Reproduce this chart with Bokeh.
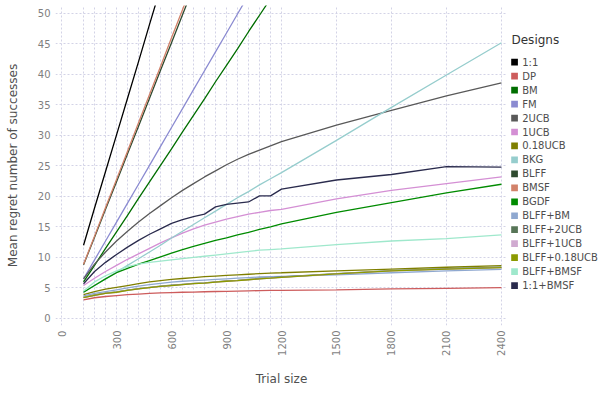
import math
from bokeh.plotting import figure
from bokeh.layouts import row
from bokeh.models import Range1d, FixedTicker, ColumnDataSource
from bokeh.core.properties import value
from bokeh.embed import file_html
from bokeh.resources import INLINE

# ---------------- data ----------------
trial_sizes = [120, 180, 240, 300, 360, 420, 480, 540, 600, 660, 720, 780, 840, 900,
               960, 1020, 1080, 1140, 1200, 1500, 1800, 2100, 2400]
x_tick_values = [0, 300, 600, 900, 1200, 1500, 1800, 2100, 2400]
y_tick_values = [0, 5, 10, 15, 20, 25, 30, 35, 40, 45, 50]

designs = ["1:1", "DP", "BM", "FM", "2UCB", "1UCB", "0.18UCB", "BKG", "BLFF", "BMSF",
           "BGDF", "BLFF+BM", "BLFF+2UCB", "BLFF+1UCB", "BLFF+0.18UCB", "BLFF+BMSF",
           "1:1+BMSF"]

colors = ["#000000", "#cd5c5c", "#006e00", "#8b8bd1", "#595959", "#d48fd4", "#7f7f00",
          "#96cdcd", "#2f4a2f", "#d2826a", "#008b00", "#8fa8d0", "#577557", "#d0aad0",
          "#8b9a00", "#9fe8cc", "#2a2b4d"]

r_1to1 = [12.0, 18.1, 24.1, 30.1, 36.1, 42.1, 48.2, 54.2, 60.2, 66.2, 72.3, 78.3, 84.3,
          90.3, 96.4, 102.4, 108.4, 114.4, 120.5, 150.6, 180.7, 210.8, 240.9]
r_dp = [3.05, 3.4, 3.6, 3.75, 3.9, 4.0, 4.1, 4.2, 4.25, 4.3, 4.33, 4.38, 4.42, 4.45, 4.5,
        4.53, 4.56, 4.6, 4.62, 4.7, 4.85, 4.95, 5.05]
r_bm = [6.0, 8.7, 11.5, 14.2, 16.9, 19.7, 22.4, 25.1, 27.8, 30.6, 33.3, 36.0, 38.8, 41.5,
        44.2, 47.0, 49.7, 52.4, 55.1, 68.8, 82.4, 96.1, 109.7]
r_fm = [6.5, 9.6, 12.7, 15.8, 18.9, 22.0, 25.1, 28.2, 31.3, 34.4, 37.5, 40.6, 43.7, 46.8,
        49.9, 53.0, 56.0, 59.1, 62.2, 77.7, 93.2, 108.7, 124.1]
r_2ucb = [6.5, 8.9, 10.9, 12.7, 14.3, 15.8, 17.2, 18.5, 19.8, 21.0, 22.1, 23.2, 24.2, 25.2,
          26.1, 26.9, 27.6, 28.3, 29.0, 31.7, 34.1, 36.5, 38.6]
r_1ucb = [5.4, 6.6, 7.7, 8.7, 9.7, 10.6, 11.5, 12.4, 13.2, 14.0, 14.7, 15.3, 15.8, 16.3,
          16.7, 17.1, 17.4, 17.7, 17.9, 19.6, 21.0, 22.1, 23.2]
r_018ucb = [3.9, 4.4, 4.8, 5.1, 5.4, 5.7, 6.0, 6.2, 6.4, 6.55, 6.7, 6.85, 6.95, 7.05, 7.15,
            7.25, 7.35, 7.45, 7.5, 7.8, 8.1, 8.4, 8.65]
r_bkg = [4.3, 5.4, 6.5, 7.6, 8.7, 9.8, 10.9, 12.0, 13.2, 14.3, 15.4, 16.5, 17.6, 18.7,
         19.8, 20.8, 21.9, 22.9, 23.9, 29.2, 34.6, 39.9, 45.2]
r_blff = [8.8, 13.3, 17.9, 22.4, 27.0, 31.5, 36.1, 40.7, 45.2, 49.8, 54.3, 58.9, 63.4,
          68.0, 72.6, 77.1, 81.7, 86.2, 90.8, 113.6, 136.4, 159.2, 182.0]
r_bmsf = [8.9, 13.5, 18.2, 22.8, 27.4, 32.1, 36.7, 41.3, 46.0, 50.6, 55.2, 59.9, 64.5,
          69.1, 73.7, 78.4, 83.0, 87.6, 92.3, 115.4, 138.6, 161.7, 184.9]
r_bgdf = [4.3, 5.4, 6.5, 7.5, 8.2, 8.9, 9.5, 10.1, 10.7, 11.3, 11.8, 12.3, 12.8, 13.2,
          13.7, 14.1, 14.6, 15.0, 15.5, 17.4, 19.0, 20.6, 22.0]
r_blff_bm = [3.7, 4.1, 4.4, 4.7, 5.0, 5.3, 5.55, 5.75, 5.95, 6.1, 6.2, 6.3, 6.4, 6.5, 6.6,
             6.7, 6.8, 6.85, 6.9, 7.15, 7.5, 7.8, 8.05]
r_blff_2ucb = [3.45, 3.85, 4.15, 4.35, 4.65, 4.9, 5.1, 5.3, 5.45, 5.6, 5.75, 5.85, 6.0,
               6.15, 6.25, 6.4, 6.55, 6.65, 6.8, 7.35, 7.85, 8.15, 8.4]
r_blff_1ucb = [3.4, 3.8, 4.1, 4.3, 4.6, 4.85, 5.05, 5.25, 5.4, 5.55, 5.7, 5.8, 5.95, 6.1,
               6.2, 6.35, 6.5, 6.6, 6.75, 7.3, 7.8, 8.1, 8.35]
r_blff_018ucb = [3.4, 3.8, 4.1, 4.3, 4.6, 4.85, 5.05, 5.25, 5.4, 5.55, 5.7, 5.8, 5.95, 6.1,
                 6.2, 6.35, 6.5, 6.6, 6.75, 7.3, 7.8, 8.1, 8.35]
r_blff_bmsf = [4.5, 6.0, 7.0, 7.8, 8.5, 8.9, 9.2, 9.4, 9.6, 9.8, 10.0, 10.2, 10.4, 10.6,
               10.8, 11.0, 11.2, 11.3, 11.4, 12.1, 12.7, 13.1, 13.7]
r_1to1_bmsf = [5.7, 7.7, 9.2, 10.5, 11.7, 12.8, 13.8, 14.7, 15.6, 16.2, 16.7, 17.1, 18.3,
               18.7, 18.9, 19.1, 20.1, 20.1, 21.2, 22.7, 23.6, 24.9, 24.8]

series = [r_1to1, r_dp, r_bm, r_fm, r_2ucb, r_1ucb, r_018ucb, r_bkg, r_blff, r_bmsf,
          r_bgdf, r_blff_bm, r_blff_2ucb, r_blff_1ucb, r_blff_018ucb, r_blff_bmsf,
          r_1to1_bmsf]

FONT = "DejaVu Sans"
TOP, BOTTOM = 5, 74   # borders shared by both panels (frames are aligned in a row)

# ---------------- main plot ----------------
p = figure(width=507, height=399, output_backend="svg", toolbar_location=None,
           x_range=Range1d(-33, 2433), y_range=Range1d(-1.15, 51.3),
           min_border_left=55, min_border_right=0, min_border_top=TOP,
           min_border_bottom=BOTTOM)
p.outline_line_color = None
p.background_fill_color = "white"
p.border_fill_color = "white"

p.xaxis.ticker = FixedTicker(ticks=x_tick_values)
p.yaxis.ticker = FixedTicker(ticks=y_tick_values)
p.xgrid.ticker = FixedTicker(ticks=[0] + trial_sizes)
p.ygrid.ticker = FixedTicker(ticks=y_tick_values)
for ax in (p.xaxis[0], p.yaxis[0]):
    ax.axis_line_color = None
    ax.major_tick_line_color = None
    ax.minor_tick_line_color = None
    ax.major_tick_out = 0
    ax.major_tick_in = 0
    ax.minor_tick_out = 0
    ax.minor_tick_in = 0
    ax.major_label_text_font = FONT
    ax.major_label_text_font_size = "10px"
    ax.major_label_text_color = "#7f7f7f"
    ax.major_label_standoff = 5
    ax.axis_label_text_font = FONT
    ax.axis_label_text_font_size = "12px"
    ax.axis_label_text_font_style = "normal"
    ax.axis_label_text_color = "#505050"
p.xaxis.major_label_orientation = math.pi / 2
p.xaxis.axis_label = "Trial size"
p.xaxis.axis_label_standoff = 13
p.yaxis.axis_label = "Mean regret number of successes"
p.yaxis.axis_label_standoff = 15

for g in (p.xgrid[0], p.ygrid[0]):
    g.grid_line_color = "#d3d3e6"
    g.grid_line_dash = "2 2"
    g.grid_line_width = 1

for name, vals, col in zip(designs, series, colors):
    src = ColumnDataSource(data=dict(x=trial_sizes, y=vals))
    p.line("x", "y", source=src, line_color=col, line_width=1.3)

# ---------------- legend panel (page-pixel coordinates) ----------------
leg = figure(width=91, height=399, output_backend="svg", toolbar_location=None,
             x_range=Range1d(0, 91), y_range=Range1d(399 - BOTTOM, TOP),
             x_axis_type=None, y_axis_type=None,
             min_border_left=0, min_border_right=0, min_border_top=TOP,
             min_border_bottom=BOTTOM)
leg.outline_line_color = None
leg.grid.visible = False
leg.background_fill_color = "white"
leg.border_fill_color = "white"

row_y = [61.7 + 13.96 * i for i in range(len(designs))]
leg_src = ColumnDataSource(data=dict(
    left=[3.7] * len(designs), right=[10.4] * len(designs),
    top=[y - 3.35 for y in row_y], bottom=[y + 3.35 for y in row_y],
    ty=row_y, label=designs, color=colors))
leg.quad(left="left", right="right", top="top", bottom="bottom", fill_color="color",
         line_color=None, source=leg_src)
leg.text(x=14.7, y="ty", text="label", source=leg_src, text_baseline="middle",
         text_align="left", text_font=value(FONT), text_font_size="10px",
         text_color="#4d4d4d")
leg.text(x=[4], y=[39], text=["Designs"], text_baseline="middle", text_align="left",
         text_font=value(FONT), text_font_size="12px", text_color="#333333")

layout = row(p, leg, spacing=0)
open("out.html", "w").write(file_html(layout, INLINE))
